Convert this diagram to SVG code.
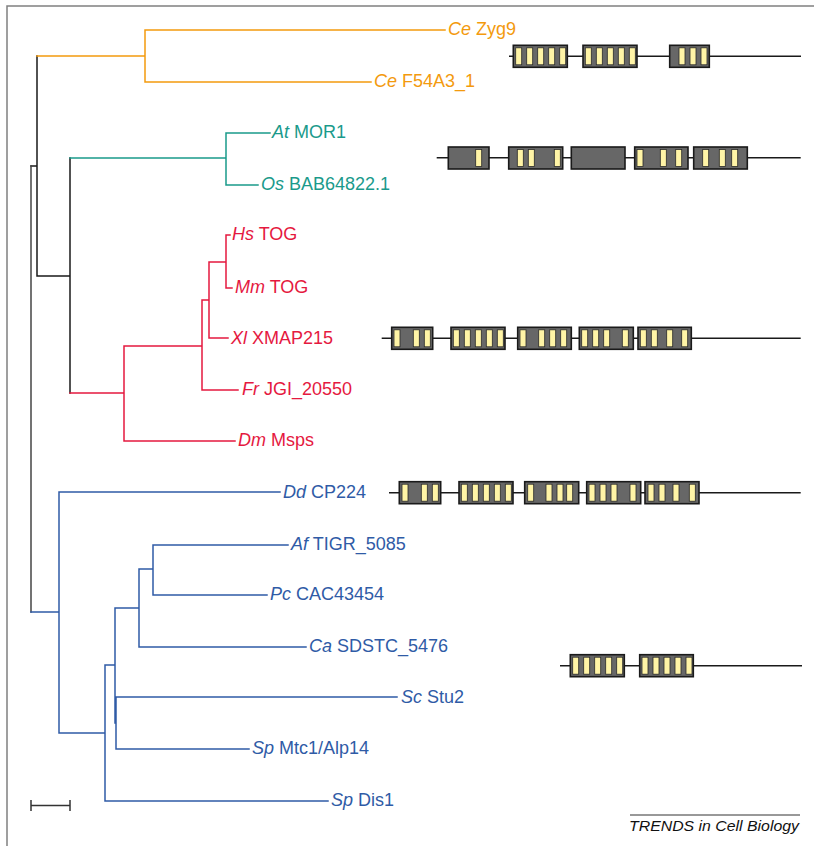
<svg xmlns="http://www.w3.org/2000/svg" width="814" height="846" viewBox="0 0 814 846">
<style>
text{font-family:"Liberation Sans",Arial,sans-serif;font-size:18px}
.i{font-style:italic}
.t{fill:none;stroke-width:1.5;stroke-linecap:square}
.k{stroke:#1a1a1a}.g{stroke:#444}
.o{stroke:#f39a0e}.tl{stroke:#1a9a8b}.r{stroke:#e5193f}.b{stroke:#2f5ba6}
.fo{fill:#f39a0e}.ftl{fill:#1a9a8b}.fr{fill:#e5193f}.fb{fill:#2f5ba6}
.ln{stroke:#1a1a1a;stroke-width:1.5}
.d{fill:#676767;stroke:#1a1a1a;stroke-width:1.6}
.s{fill:#fff4a6;stroke:#2a2a2a;stroke-width:0.8}
</style>
<defs>
<rect id="st" class="s" width="6" height="17"/>
</defs>
<path d="M7,846V6H814" fill="none" stroke="#808080" stroke-width="1.5"/>
<g id="connectors">
<path class="t k" d="M31,166H37M37,56V276M37,276H70M70,158V393"/>
<path class="t g" d="M31,166V612"/>
<path class="t o" d="M37,56H145M145,30V82M145,30H445M145,82H371"/>
<path class="t tl" d="M70,158H226M226,133V185M226,133H270M226,185H258"/>
<path class="t r" d="M70,393H124M124,346V441M124,346H202M124,441H235M202,300V390M202,390H238M202,300H209M209,262V338M209,338H228M209,262H226M226,235V288M226,235H230M226,288H232"/>
<path class="t b" d="M31,612H59M59,492V733M59,492H280M59,733H105M105,665V801M105,801H328M105,665H115M115,608V723M115,723H116M116,697V749M116,697H397M116,749H249M115,608H139M139,569V647M139,647H306M139,569H153M153,545V595M153,545H288M153,595H267"/>
</g>
<g id="leaf-ce-zyg9"><text x="448" y="35" class="fo"><tspan class="i">Ce</tspan> Zyg9</text></g>
<g id="leaf-ce-f54a3"><text x="374" y="87" class="fo"><tspan class="i">Ce</tspan> F54A3_1</text></g>
<g id="leaf-at-mor1"><text x="272" y="138" class="ftl"><tspan class="i">At</tspan> MOR1</text></g>
<g id="leaf-os"><text x="261" y="190" class="ftl"><tspan class="i">Os</tspan> BAB64822.1</text></g>
<g id="leaf-hs"><text x="232" y="240" class="fr"><tspan class="i">Hs</tspan> TOG</text></g>
<g id="leaf-mm"><text x="235" y="293" class="fr"><tspan class="i">Mm</tspan> TOG</text></g>
<g id="leaf-xl"><text x="231" y="344" class="fr"><tspan class="i">Xl</tspan> XMAP215</text></g>
<g id="leaf-fr"><text x="242" y="395" class="fr"><tspan class="i">Fr</tspan> JGI_20550</text></g>
<g id="leaf-dm"><text x="238" y="446" class="fr"><tspan class="i">Dm</tspan> Msps</text></g>
<g id="leaf-dd"><text x="283" y="498" class="fb"><tspan class="i">Dd</tspan> CP224</text></g>
<g id="leaf-af"><text x="291" y="550" class="fb"><tspan class="i">Af</tspan> TIGR_5085</text></g>
<g id="leaf-pc"><text x="270" y="600" class="fb"><tspan class="i">Pc</tspan> CAC43454</text></g>
<g id="leaf-ca"><text x="309" y="652" class="fb"><tspan class="i">Ca</tspan> SDSTC_5476</text></g>
<g id="leaf-sc"><text x="401" y="703" class="fb"><tspan class="i">Sc</tspan> Stu2</text></g>
<g id="leaf-sp-mtc1"><text x="252" y="754" class="fb"><tspan class="i">Sp</tspan> Mtc1/Alp14</text></g>
<g id="leaf-sp-dis1"><text x="331" y="806" class="fb"><tspan class="i">Sp</tspan> Dis1</text></g>

<g id="domains-zyg9">
<path class="ln" d="M509,56.3H801"/>
<rect class="d" x="513.3" y="45.3" width="54" height="22"/>
<use href="#st" x="515.7" y="47.8"/><use href="#st" x="526.7" y="47.8"/><use href="#st" x="537.7" y="47.8"/><use href="#st" x="548.7" y="47.8"/><use href="#st" x="559.7" y="47.8"/>
<rect class="d" x="583" y="45.3" width="54" height="22"/>
<use href="#st" x="585.3" y="47.8"/><use href="#st" x="596.3" y="47.8"/><use href="#st" x="607.3" y="47.8"/><use href="#st" x="618.3" y="47.8"/><use href="#st" x="629.3" y="47.8"/>
<rect class="d" x="669.7" y="45.3" width="39.6" height="22"/>
<use href="#st" x="679" y="47.8"/><use href="#st" x="690" y="47.8"/><use href="#st" x="701" y="47.8"/>
</g>
<g id="domains-mor1">
<path class="ln" d="M436.7,157.8H800.7"/>
<rect class="d" x="448.3" y="147" width="40.7" height="22"/>
<use href="#st" x="475.7" y="149.5"/>
<rect class="d" x="508.7" y="147" width="54" height="22"/>
<use href="#st" x="517.3" y="149.5"/><use href="#st" x="528.3" y="149.5"/><use href="#st" x="554.3" y="149.5"/>
<rect class="d" x="571.3" y="147" width="53.7" height="22"/>
<rect class="d" x="634.7" y="147" width="53.3" height="22"/>
<use href="#st" x="637" y="149.5"/><use href="#st" x="660.3" y="149.5"/><use href="#st" x="675.7" y="149.5"/>
<rect class="d" x="693.7" y="147" width="53.6" height="22"/>
<use href="#st" x="702.7" y="149.5"/><use href="#st" x="719.3" y="149.5"/><use href="#st" x="731.7" y="149.5"/>
</g>
<g id="domains-xmap215">
<path class="ln" d="M381.7,338.3H800.7"/>
<rect class="d" x="391.7" y="327.3" width="41" height="22"/>
<use href="#st" x="394" y="329.8"/><use href="#st" x="413.3" y="329.8"/><use href="#st" x="424.3" y="329.8"/>
<rect class="d" x="451" y="327.3" width="54" height="22"/>
<use href="#st" x="453.3" y="329.8"/><use href="#st" x="464.3" y="329.8"/><use href="#st" x="475.3" y="329.8"/><use href="#st" x="486.3" y="329.8"/><use href="#st" x="497.3" y="329.8"/>
<rect class="d" x="517.7" y="327.3" width="53.6" height="22"/>
<use href="#st" x="520" y="329.8"/><use href="#st" x="538.7" y="329.8"/><use href="#st" x="549.7" y="329.8"/><use href="#st" x="560.7" y="329.8"/>
<rect class="d" x="579.3" y="327.3" width="54" height="22"/>
<use href="#st" x="581.7" y="329.8"/><use href="#st" x="592.7" y="329.8"/><use href="#st" x="603.7" y="329.8"/><use href="#st" x="622.3" y="329.8"/>
<rect class="d" x="638" y="327.3" width="53.3" height="22"/>
<use href="#st" x="640.3" y="329.8"/><use href="#st" x="651.3" y="329.8"/><use href="#st" x="666.7" y="329.8"/><use href="#st" x="681.7" y="329.8"/>
</g>
<g id="domains-cp224">
<path class="ln" d="M389,492.7H800.7"/>
<rect class="d" x="399.3" y="481.7" width="41.4" height="22"/>
<use href="#st" x="402" y="484.2"/><use href="#st" x="421.3" y="484.2"/><use href="#st" x="432.3" y="484.2"/>
<rect class="d" x="459" y="481.7" width="54" height="22"/>
<use href="#st" x="461.3" y="484.2"/><use href="#st" x="472.3" y="484.2"/><use href="#st" x="483.3" y="484.2"/><use href="#st" x="494.3" y="484.2"/><use href="#st" x="505.3" y="484.2"/>
<rect class="d" x="524.7" y="481.7" width="54" height="22"/>
<use href="#st" x="527.7" y="484.2"/><use href="#st" x="546" y="484.2"/><use href="#st" x="557" y="484.2"/><use href="#st" x="566.7" y="484.2"/>
<rect class="d" x="586.7" y="481.7" width="54" height="22"/>
<use href="#st" x="589" y="484.2"/><use href="#st" x="600" y="484.2"/><use href="#st" x="611" y="484.2"/><use href="#st" x="630" y="484.2"/>
<rect class="d" x="645" y="481.7" width="54" height="22"/>
<use href="#st" x="648" y="484.2"/><use href="#st" x="659" y="484.2"/><use href="#st" x="673" y="484.2"/><use href="#st" x="689.3" y="484.2"/>
</g>
<g id="domains-stu2">
<path class="ln" d="M560,665.7H802"/>
<rect class="d" x="570.3" y="654.7" width="54" height="22"/>
<use href="#st" x="572.7" y="657.2"/><use href="#st" x="583.7" y="657.2"/><use href="#st" x="594.7" y="657.2"/><use href="#st" x="605.7" y="657.2"/><use href="#st" x="616.7" y="657.2"/>
<rect class="d" x="639.7" y="654.7" width="53.6" height="22"/>
<use href="#st" x="642" y="657.2"/><use href="#st" x="653" y="657.2"/><use href="#st" x="664" y="657.2"/><use href="#st" x="675" y="657.2"/><use href="#st" x="686" y="657.2"/>
</g>
<g id="scale-bar">
<path d="M31,805.5H70M31,800V811M70,800V811" fill="none" stroke="#333" stroke-width="1.5"/>
</g>
<g id="credit">
<path d="M630,815H800" stroke="#333" stroke-width="1"/>
<text x="629" y="831" font-size="15" font-style="italic" fill="#111" textLength="170" lengthAdjust="spacingAndGlyphs" style="font-size:15px">TRENDS in Cell Biology</text>
</g>
</svg>
